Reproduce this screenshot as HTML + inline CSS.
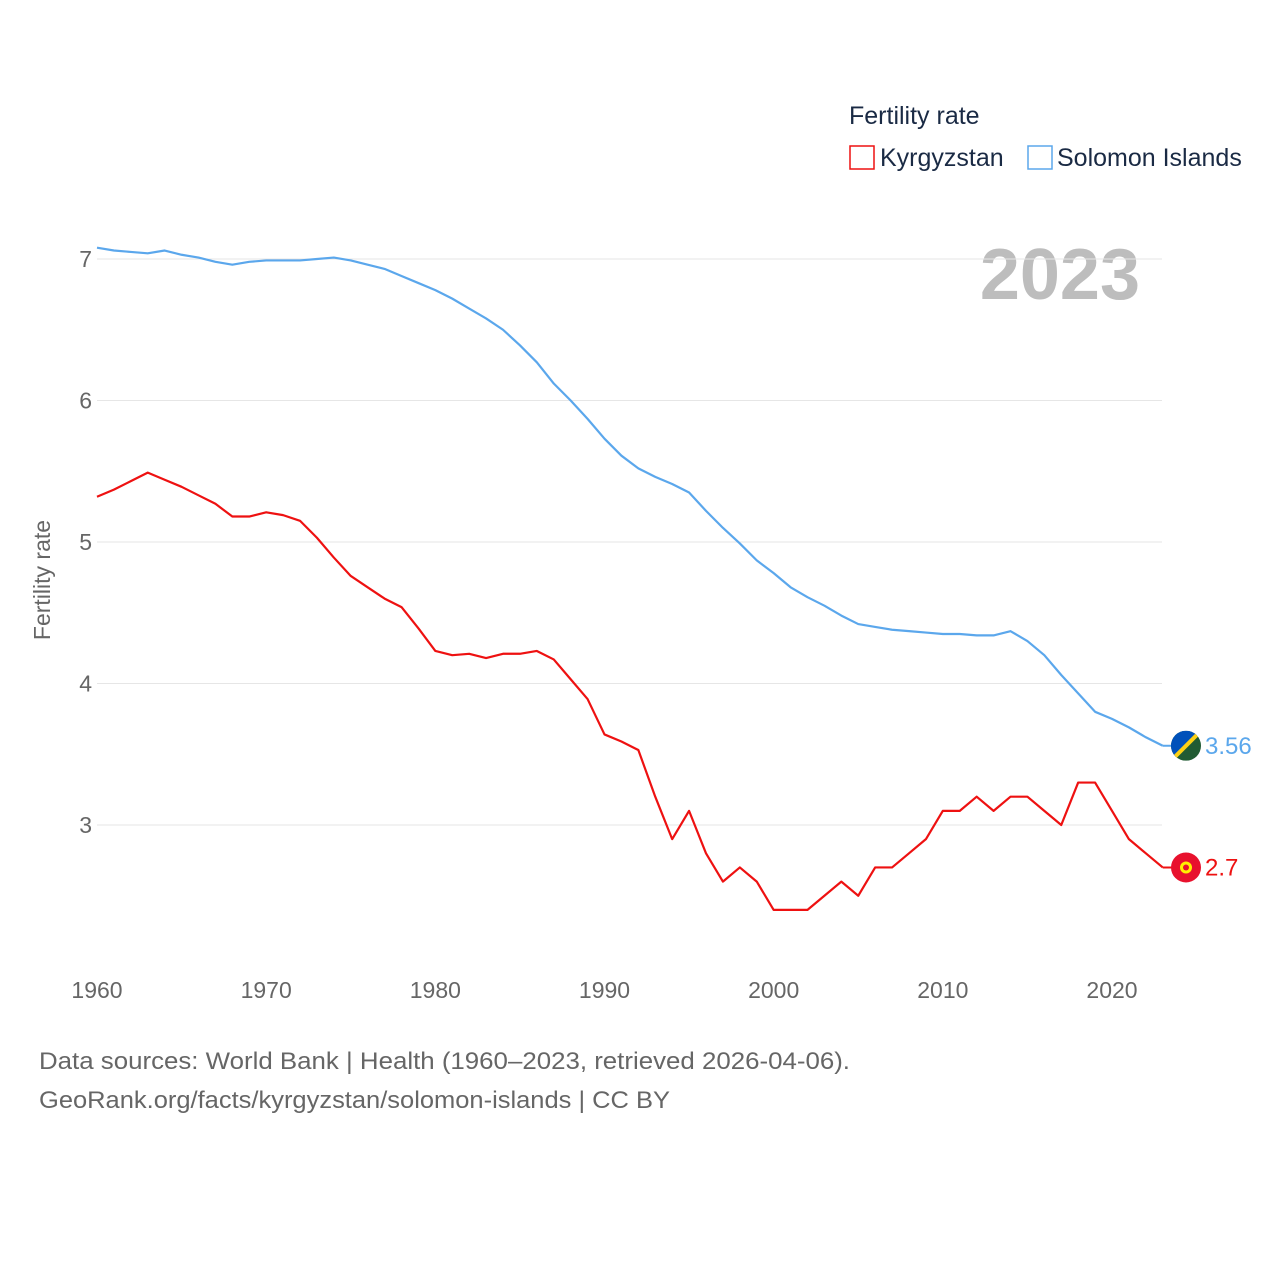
<!DOCTYPE html>
<html><head><meta charset="utf-8"><style>
body{margin:0;background:#fff;width:1280px;height:1280px;overflow:hidden;font-family:"Liberation Sans",sans-serif}
svg{position:absolute;left:0;top:0}
</style></head><body>
<svg id="chart" width="1280" height="1280" xmlns="http://www.w3.org/2000/svg">
<text x="849" y="124" font-size="25" fill="#1a2a44">Fertility rate</text>
<g><rect x="850" y="146" width="24" height="23" fill="none" stroke="#ee1111" stroke-width="1.5"/><text x="880" y="166" font-size="25" fill="#1a2a44">Kyrgyzstan</text></g>
<g><rect x="1028" y="146" width="24" height="23" fill="none" stroke="#5ba7ec" stroke-width="1.5"/><text x="1057" y="166" font-size="25" fill="#1a2a44">Solomon Islands</text></g>
<text x="1140" y="299" font-size="72" font-weight="bold" fill="#bdbdbd" text-anchor="end">2023</text>
<text transform="translate(50,580) rotate(-90)" font-size="23" fill="#666" text-anchor="middle">Fertility rate</text>
<g id="grid"></g><g id="lines"></g>
<text x="39" y="1069" font-size="24" fill="#666" textLength="811" lengthAdjust="spacingAndGlyphs">Data sources: World Bank | Health (1960–2023, retrieved 2026-04-06).</text>
<text x="39" y="1108" font-size="24" fill="#666" textLength="631" lengthAdjust="spacingAndGlyphs">GeoRank.org/facts/kyrgyzstan/solomon-islands | CC BY</text>
</svg>
<script>
const years=[];for(let y=1960;y<=2023;y++)years.push(y);
const yTicks=[3,4,5,6,7];
const xTicks=[1960,1970,1980,1990,2000,2010,2020];
const solomon=[7.08,7.06,7.05,7.04,7.06,7.03,7.01,6.98,6.96,6.98,6.99,6.99,6.99,7.0,7.01,6.99,6.96,6.93,6.88,6.83,6.78,6.72,6.65,6.58,6.5,6.39,6.27,6.12,6.0,5.87,5.73,5.61,5.52,5.46,5.41,5.35,5.22,5.1,4.99,4.87,4.78,4.68,4.61,4.55,4.48,4.42,4.4,4.38,4.37,4.36,4.35,4.35,4.34,4.34,4.37,4.3,4.2,4.06,3.93,3.8,3.75,3.69,3.62,3.56];
const kyrgyz=[5.32,5.37,5.43,5.49,5.44,5.39,5.33,5.27,5.18,5.18,5.21,5.19,5.15,5.03,4.89,4.76,4.68,4.6,4.54,4.39,4.23,4.2,4.21,4.18,4.21,4.21,4.23,4.17,4.03,3.89,3.64,3.59,3.53,3.2,2.9,3.1,2.8,2.6,2.7,2.6,2.4,2.4,2.4,2.5,2.6,2.5,2.7,2.7,2.8,2.9,3.1,3.1,3.2,3.1,3.2,3.2,3.1,3.0,3.3,3.3,3.1,2.9,2.8,2.7];
const X=y=>97+(y-1960)*(1112-97)/60;
const Y=v=>825-(v-3)*141.5;
const NS="http://www.w3.org/2000/svg";
function mk(tag,attrs,parent){const e=document.createElementNS(NS,tag);for(const k in attrs)e.setAttribute(k,attrs[k]);parent.appendChild(e);return e;}
const grid=document.getElementById('grid'),lines=document.getElementById('lines');
yTicks.forEach(t=>{
  const l=mk('line',{x1:97,x2:1162,y1:Y(t),y2:Y(t),stroke:'#e6e6e6','stroke-width':1},grid);
  
  
  const tx=mk('text',{x:92,y:Y(t)+8,'font-size':23,fill:'#666','text-anchor':'end'},grid);
  tx.textContent=t;
  
  
});
xTicks.forEach(t=>{
  const tx=mk('text',{x:X(t),y:998,'font-size':23,fill:'#666','text-anchor':'middle'},grid);
  tx.textContent=t;
  
  
});
function series(vals,color,name){
  const p=mk('polyline',{points:vals.map((v,i)=>X(years[i])+','+Y(v)).join(' '),fill:'none',stroke:color,'stroke-width':2.2,'stroke-linejoin':'round'},lines);
  
  
  const last=vals[vals.length-1],cy=Y(last),cx=1186;
  mk('line',{x1:X(2023),x2:cx,y1:cy,y2:cy,stroke:color,'stroke-width':2},lines);
  const g=mk('g',{},lines);
  
  
  if(name==='kyrgyzstan'){
    mk('circle',{cx:cx,cy:cy,r:15,fill:'#e8112d'},g);
    mk('circle',{cx:cx,cy:cy,r:6,fill:'#ffef00'},g);
    mk('circle',{cx:cx,cy:cy,r:3,fill:'#e8112d'},g);
  }else{
    const cp=mk('clipPath',{id:'fc'},g);
    mk('circle',{cx:cx,cy:cy,r:15},cp);
    const gg=mk('g',{'clip-path':'url(#fc)'},g);
    mk('rect',{x:cx-15,y:cy-15,width:30,height:30,fill:'#215b33'},gg);
    mk('polygon',{points:`${cx-15},${cy-15} ${cx+15},${cy-15} ${cx-15},${cy+15}`,fill:'#0051ba'},gg);
    mk('line',{x1:cx-15,y1:cy+15,x2:cx+15,y2:cy-15,stroke:'#fcd116','stroke-width':4},gg);
  }
  const tx=mk('text',{x:1205,y:cy+8,'font-size':24,fill:color},lines);
  tx.textContent=String(last);
  
  
}
series(solomon,'#5ba7ec','solomon-islands');
series(kyrgyz,'#ee1111','kyrgyzstan');
</script>
</body></html>
